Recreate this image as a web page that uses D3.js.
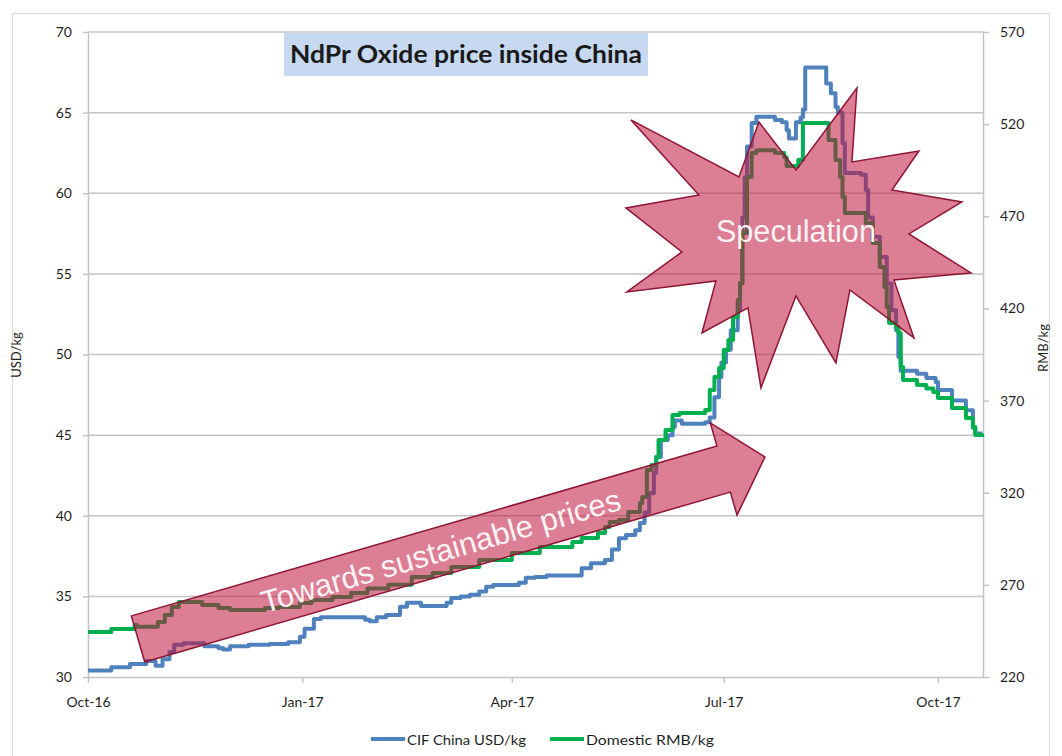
<!DOCTYPE html>
<html>
<head>
<meta charset="utf-8">
<script src="https://cdn.jsdelivr.net/npm/d3@7"></script>
<style>
  body { margin: 0; background: #fff; }
  text { font-family: Lato, "Open Sans", sans-serif; }
</style>
</head>
<body>
<div id="viz"></div>
<script>
//DATA: CIF China price, USD/kg (left axis)
const usdDates = ["2016-10-01","2016-10-11","2016-10-19","2016-10-26","2016-10-30","2016-11-02","2016-11-05","2016-11-07","2016-11-11","2016-11-20",
  "2016-11-26","2016-11-28","2016-12-01","2016-12-09","2016-12-18","2016-12-26","2016-12-31","2017-01-02","2017-01-06","2017-01-09",
  "2017-01-28","2017-01-30","2017-02-02","2017-02-06","2017-02-12","2017-02-15","2017-02-21","2017-03-04","2017-03-06","2017-03-10",
  "2017-03-14","2017-03-18","2017-03-21","2017-03-24","2017-04-04","2017-04-07","2017-04-11","2017-04-16","2017-05-01","2017-05-05",
  "2017-05-11","2017-05-14","2017-05-17","2017-05-20","2017-05-24","2017-05-26","2017-05-28","2017-05-30","2017-06-01","2017-06-02",
  "2017-06-04","2017-06-07","2017-06-09","2017-06-10","2017-06-13","2017-06-23","2017-06-25","2017-06-27","2017-06-29","2017-06-30",
  "2017-07-02","2017-07-04","2017-07-07","2017-07-08","2017-07-09","2017-07-10","2017-07-11","2017-07-13","2017-07-15","2017-07-23",
  "2017-07-26","2017-07-28","2017-07-29","2017-08-01","2017-08-03","2017-08-04","2017-08-05","2017-08-14","2017-08-16","2017-08-18",
  "2017-08-19","2017-08-21","2017-08-22","2017-08-29","2017-08-31","2017-09-01","2017-09-03","2017-09-06","2017-09-09","2017-09-11",
  "2017-09-13","2017-09-14","2017-09-15","2017-09-22","2017-09-26","2017-09-30","2017-10-01","2017-10-07","2017-10-13","2017-10-16",
  "2017-10-17","2017-10-20"];
const usdValues = [30.4,30.6,30.8,31.0,30.7,31.1,31.55,32.0,32.1,31.9,
  31.8,31.7,31.9,32.0,32.05,32.15,32.5,33.0,33.6,33.7,
  33.55,33.45,33.7,33.85,34.35,34.6,34.4,34.6,34.9,35.0,
  35.1,35.3,35.6,35.7,35.85,36.15,36.2,36.3,36.75,37.05,
  37.25,37.9,38.6,38.8,39.1,39.55,40.2,41.4,42.65,43.65,
  44.7,45.0,45.5,45.9,45.7,45.8,46.1,47.35,48.6,49.5,
  50.3,51.5,52.75,54.4,58.5,61.0,62.9,64.35,64.75,64.55,
  64.4,63.9,63.4,64.4,64.7,65.2,67.8,66.8,66.2,65.35,
  65.0,63.1,61.25,61.15,60.2,58.5,57.3,56.05,54.4,52.75,
  51.5,49.85,49.0,48.8,48.55,48.3,47.8,47.15,46.55,45.45,
  45.1,45.1];

//DATA: Domestic price, RMB/kg (right axis)
const rmbDates = ["2016-10-01","2016-10-11","2016-10-21","2016-10-22","2016-10-31","2016-11-03","2016-11-06","2016-11-09","2016-11-19","2016-11-26",
  "2016-12-01","2016-12-16","2016-12-22","2016-12-31","2017-01-05","2017-01-14","2017-01-22","2017-01-29","2017-02-07","2017-02-17",
  "2017-02-26","2017-03-06","2017-03-18","2017-04-01","2017-04-13","2017-04-27","2017-05-01","2017-05-08","2017-05-11","2017-05-13",
  "2017-05-17","2017-05-21","2017-05-26","2017-05-27","2017-05-29","2017-05-31","2017-06-02","2017-06-03","2017-06-06","2017-06-09",
  "2017-06-12","2017-06-23","2017-06-25","2017-06-27","2017-06-29","2017-07-01","2017-07-03","2017-07-05","2017-07-07","2017-07-08",
  "2017-07-09","2017-07-11","2017-07-13","2017-07-15","2017-07-23","2017-07-27","2017-07-28","2017-08-02","2017-08-04","2017-08-15",
  "2017-08-18","2017-08-20","2017-08-21","2017-08-22","2017-08-31","2017-09-03","2017-09-06","2017-09-08","2017-09-09","2017-09-10",
  "2017-09-13","2017-09-14","2017-09-15","2017-09-16","2017-09-22","2017-09-26","2017-09-29","2017-10-01","2017-10-07","2017-10-13",
  "2017-10-16","2017-10-17","2017-10-20"];
const rmbValues = [244.4,246.0,248.2,247.2,249.8,253.6,258.0,260.7,259.1,257.4,
  256.4,257.4,258.0,260.2,261.8,263.4,265.6,268.0,270.0,274.3,
  276.4,279.7,283.5,287.3,290.6,293.2,295.4,298.1,301.4,304.1,
  305.2,309.5,314.4,317.7,332.3,335.0,339.4,348.6,354.0,362.2,
  363.2,364.9,375.7,382.8,387.7,397.4,402.9,415.3,424.6,433.8,
  460.9,491.3,504.3,505.9,504.3,502.1,497.3,500.5,520.6,511.4,
  500.5,491.3,480.4,471.8,466.4,455.5,442.5,431.6,420.8,412.1,
  409.9,406.6,388.2,381.1,378.5,376.5,374.6,371.4,366.0,360.5,
  355.6,351.3,350.2];

//Axis ticks
const xTickDates = ["2016-10-01","2017-01-01","2017-04-01","2017-07-01","2017-10-01"];
const usdTicks = [30,35,40,45,50,55,60,65,70];
const rmbTicks = [220,270,320,370,420,470,520,570];

//Series names for the legend
const seriesNames = ["CIF China USD/kg","Domestic RMB/kg"];

//Annotations (anchored in data units)
const arrowLabel = "Towards sustainable prices";
const arrowFrom = ["2016-10-22", 32.36];
const arrowTo = ["2017-07-18", 43.64];
const burstLabel = "Speculation";
const burstAnchor = ["2017-08-01", 57.6];

//---------------------------------------------------------------
const W = 1062, H = 756;
const plot = {left: 88, right: 983, top: 32, bottom: 677};
const parse = d3.timeParse("%Y-%m-%d");

const blueColor = "#4f81bd";
const greenColor = "#00b050";
const gridColor = "#c4c4c4";
const labelColor = "#1f1f1f";

const svg = d3.select("#viz")
  .append("svg")
  .attr("width", W)
  .attr("height", H);

//outer chart border
svg.append("rect")
  .attr("x", 12.5).attr("y", 13.5)
  .attr("width", 1037).attr("height", 760)
  .attr("fill", "none")
  .attr("stroke", "#d9d9d9");

//SCALES
const x = d3.scaleTime()
  .domain([parse("2016-10-01"), new Date(2017, 9, 20, 8)])
  .range([plot.left, plot.right]);
const yUsd = d3.scaleLinear().domain([30, 70]).range([plot.bottom, plot.top]);
const yRmb = d3.scaleLinear().domain([220, 570]).range([plot.bottom, plot.top]);

//GRIDLINES (from left axis)
svg.append("g")
  .selectAll("line")
  .data(usdTicks.slice(1))
  .enter()
  .append("line")
  .attr("x1", plot.left).attr("x2", plot.right)
  .attr("y1", d => yUsd(d)).attr("y2", d => yUsd(d))
  .attr("stroke", gridColor)
  .attr("stroke-width", 1.5);

//AXES
function styleAxis(g) {
  g.selectAll(".domain").attr("stroke", gridColor).attr("stroke-width", 1.5);
  g.selectAll(".tick line").attr("stroke", gridColor).attr("stroke-width", 1.5);
  g.selectAll(".tick text")
    .attr("fill", labelColor)
    .style("font-size", "14px")
    .style("font-family", "Lato, sans-serif");
}

svg.append("g")
  .attr("transform", `translate(${plot.left},0)`)
  .call(d3.axisLeft(yUsd).tickValues(usdTicks).tickSize(5).tickPadding(11).tickSizeOuter(0))
  .call(styleAxis);

svg.append("g")
  .attr("transform", `translate(${plot.right},0)`)
  .call(d3.axisRight(yRmb).tickValues(rmbTicks).tickSize(6).tickPadding(11).tickSizeOuter(0))
  .call(styleAxis);

svg.append("g")
  .attr("transform", `translate(0,${plot.bottom})`)
  .call(d3.axisBottom(x).tickValues(xTickDates.map(parse)).tickFormat(d3.timeFormat("%b-%y"))
    .tickSize(6).tickPadding(14).tickSizeOuter(0))
  .call(styleAxis);

//axis titles
svg.append("text")
  .attr("transform", "translate(16,355) rotate(-90)")
  .attr("text-anchor", "middle")
  .attr("dominant-baseline", "central")
  .attr("fill", labelColor)
  .style("font-size", "13px")
  .text("USD/kg");

svg.append("text")
  .attr("transform", "translate(1043,348) rotate(-90)")
  .attr("text-anchor", "middle")
  .attr("dominant-baseline", "central")
  .attr("fill", labelColor)
  .style("font-size", "13px")
  .text("RMB/kg");

//LINES
const usdData = usdDates.map((d, i) => ({date: parse(d), value: usdValues[i]}));
const rmbData = rmbDates.map((d, i) => ({date: parse(d), value: rmbValues[i]}));

const usdLine = d3.line().curve(d3.curveStepAfter).x(d => x(d.date)).y(d => yUsd(d.value));
const rmbLine = d3.line().curve(d3.curveStepAfter).x(d => x(d.date)).y(d => yRmb(d.value));

svg.append("path")
  .datum(usdData)
  .attr("d", usdLine)
  .attr("fill", "none")
  .attr("stroke", blueColor)
  .attr("stroke-width", 4)
  .attr("stroke-linejoin", "round");

svg.append("path")
  .datum(rmbData)
  .attr("d", rmbLine)
  .attr("fill", "none")
  .attr("stroke", greenColor)
  .attr("stroke-width", 4)
  .attr("stroke-linejoin", "round");

//TITLE BOX
svg.append("rect")
  .attr("x", 284).attr("y", 33)
  .attr("width", 364).attr("height", 43)
  .attr("fill", "#c6d9f1");

svg.append("text")
  .attr("x", 466).attr("y", 63)
  .attr("text-anchor", "middle")
  .attr("fill", "#1a1a1a")
  .attr("textLength", 352)
  .attr("lengthAdjust", "spacingAndGlyphs")
  .style("font-size", "24px")
  .style("font-weight", "bold")
  .text("NdPr Oxide price inside China");

//ANNOTATIONS
const shapeFill = "#c0143c";
const shapeStroke = "#8e1535";

//arrow: "Towards sustainable prices"
const p0 = [x(parse(arrowFrom[0])) + 0.5 * 2.329, yUsd(arrowFrom[1])];
const p1 = [x(parse(arrowTo[0])) + 0.7 * 2.329, yUsd(arrowTo[1])];
const len = Math.hypot(p1[0] - p0[0], p1[1] - p0[1]);
const u = [(p1[0] - p0[0]) / len, (p1[1] - p0[1]) / len];
const n = [-u[1], u[0]];
const shaftW = 24, headW = 48, headL = 43;
const neck = [p0[0] + u[0] * (len - headL), p0[1] + u[1] * (len - headL)];
const arrowPts = [
  [p0[0] - n[0] * shaftW, p0[1] - n[1] * shaftW],
  [neck[0] - n[0] * shaftW, neck[1] - n[1] * shaftW],
  [neck[0] - n[0] * headW, neck[1] - n[1] * headW],
  p1,
  [neck[0] + n[0] * headW, neck[1] + n[1] * headW],
  [neck[0] + n[0] * shaftW, neck[1] + n[1] * shaftW],
  [p0[0] + n[0] * shaftW, p0[1] + n[1] * shaftW]
];
svg.append("polygon")
  .attr("points", arrowPts.map(p => p.join(",")).join(" "))
  .attr("fill", shapeFill)
  .attr("fill-opacity", 0.55)
  .attr("stroke", shapeStroke)
  .attr("stroke-width", 1.5);

const angle = Math.atan2(u[1], u[0]) * 180 / Math.PI;
const tc = [p0[0] + u[0] * len * 0.483, p0[1] + u[1] * len * 0.483];
svg.append("text")
  .attr("transform", `translate(${tc[0]},${tc[1]}) rotate(${angle})`)
  .attr("text-anchor", "middle")
  .attr("dominant-baseline", "central")
  .attr("fill", "#fdf2f4")
  .attr("textLength", 373)
  .attr("lengthAdjust", "spacingAndGlyphs")
  .style("font-family", "'Liberation Sans', Arial, sans-serif")
  .style("font-size", "31px")
  .text(arrowLabel);

//starburst: "Speculation" (outline offsets in px around the anchor)
const burstShape = [[61,-144],[56,-70],[123,-81],[96,-42],[166,-30],[113,2],[175,41],[98,48],
  [118,106],[54,58],[40,131],[0,64],[-35,156],[-48,76],[-94,101],[-80,49],[-169,60],[-114,20],
  [-170,-24],[-97,-37],[-165,-112],[-57,-55],[-37,-110],[0,-62]];
const bc = [x(parse(burstAnchor[0])), yUsd(burstAnchor[1])];

svg.append("polygon")
  .attr("points", burstShape.map(p => [bc[0] + p[0], bc[1] + p[1]].join(",")).join(" "))
  .attr("fill", shapeFill)
  .attr("fill-opacity", 0.55)
  .attr("stroke", shapeStroke)
  .attr("stroke-width", 1.5)
  .attr("stroke-linejoin", "miter");

svg.append("text")
  .attr("x", bc[0]).attr("y", bc[1])
  .attr("text-anchor", "middle")
  .attr("dominant-baseline", "central")
  .attr("fill", "#fdf2f4")
  .attr("textLength", 160)
  .attr("lengthAdjust", "spacingAndGlyphs")
  .style("font-family", "'Liberation Sans', Arial, sans-serif")
  .style("font-size", "31px")
  .text(burstLabel);

//LEGEND
const legend = svg.append("g").attr("transform", "translate(0,739)");
const legendX = [371, 550];
const legendColors = [blueColor, greenColor];
const legendTextLen = [119, 128];
seriesNames.forEach((name, i) => {
  legend.append("line")
    .attr("x1", legendX[i]).attr("x2", legendX[i] + 34)
    .attr("y1", 0).attr("y2", 0)
    .attr("stroke", legendColors[i])
    .attr("stroke-width", 4);
  legend.append("text")
    .attr("x", legendX[i] + 36).attr("y", 0)
    .attr("dominant-baseline", "central")
    .attr("fill", labelColor)
    .attr("textLength", legendTextLen[i])
    .attr("lengthAdjust", "spacingAndGlyphs")
    .style("font-size", "14px")
    .text(name);
});
</script>
</body>
</html>
